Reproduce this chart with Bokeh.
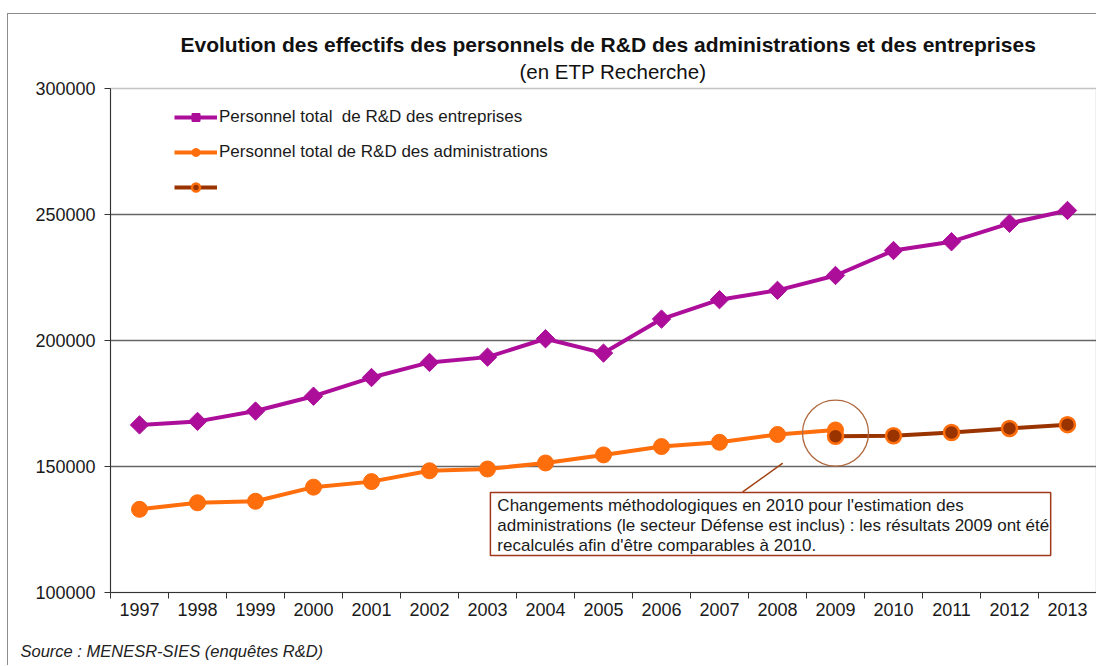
from bokeh.plotting import figure
from bokeh.models import (FixedTicker, Label, BoxAnnotation, Legend, LegendItem,
                          BasicTickFormatter, Range1d, Title)
from bokeh.embed import file_html
from bokeh.resources import INLINE
import math

# ---------------- data ----------------
years = list(range(1997, 2014))
entreprises = [166500, 167900, 172000, 177900, 185300, 191300, 193400, 200700, 195000,
               208500, 216200, 219900, 225800, 235700, 239200, 246500, 251600]
admin_years = list(range(1997, 2010))
administrations = [133000, 135600, 136200, 141800, 144000, 148300, 149000, 151400,
                   154600, 157900, 159600, 162700, 164500]
recalc_years = [2009, 2010, 2011, 2012, 2013]
recalc = [162000, 162200, 163500, 165100, 166600]
y_ticks = [100000, 150000, 200000, 250000, 300000]

title = "Evolution des effectifs des personnels de R&D des administrations et des entreprises"
subtitle = "(en ETP Recherche)"
label_ent = "Personnel total  de R&D des entreprises"
label_adm = "Personnel total de R&D des administrations"
note_lines = ["Changements  méthodologiques  en 2010 pour l'estimation  des",
              "administrations  (le secteur Défense est inclus)  : les résultats  2009 ont été",
              "recalculés afin d'être comparables à 2010."]
source = "Source : MENESR-SIES (enquêtes R&D)"

MAGENTA = "#AC0E9A"
ORANGE = "#FF6E0C"
BROWN = "#993300"
FONT = "Liberation Sans"
TXT = "#1a1a1a"

p = figure(width=1089, height=652, output_backend="svg", toolbar_location=None, title=None,
           x_range=Range1d(years[0] - 0.5, years[-1] + 0.5),
           y_range=Range1d(y_ticks[0], y_ticks[-1]),
           min_border_left=102, min_border_right=1, min_border_top=74, min_border_bottom=20,
           styles={"border-left": "1px solid #8c8c8c", "border-top": "1px solid #8c8c8c",
                   "margin-left": "7px", "margin-top": "13px"})
p.background_fill_color = "white"
p.border_fill_color = "white"
p.outline_line_color = "#C4C4C4"
p.outline_line_width = 1.5

# axes
p.xaxis.ticker = FixedTicker(ticks=years, minor_ticks=[y - 0.5 for y in years] + [years[-1] + 0.5])
p.xaxis.major_tick_out = 0
p.xaxis.major_tick_in = 0
p.xaxis.minor_tick_out = 6
p.xaxis.minor_tick_in = 0
p.xaxis.minor_tick_line_color = "#333333"
p.xaxis.major_label_standoff = 4
p.yaxis.ticker = FixedTicker(ticks=y_ticks)
p.yaxis.formatter = BasicTickFormatter(use_scientific=False)
p.yaxis.major_tick_out = 6
p.yaxis.major_tick_in = 0
p.yaxis.minor_tick_line_color = None
p.yaxis.major_label_standoff = 9
for ax in (p.xaxis[0], p.yaxis[0]):
    ax.axis_line_color = "#333333"
    ax.major_tick_line_color = "#333333"
    ax.major_label_text_font = FONT
    ax.major_label_text_font_size = "18px"
    ax.major_label_text_color = TXT

p.xgrid.visible = False
p.ygrid.ticker = FixedTicker(ticks=y_ticks[1:-1])
p.ygrid.grid_line_color = "#666666"
p.ygrid.grid_line_width = 1.5

# series
r1l = p.line(years, entreprises, line_color=MAGENTA, line_width=4)
r1m = p.scatter(years, entreprises, marker="square", angle=math.pi / 4, size=13,
                fill_color=MAGENTA, line_color=MAGENTA)
r2l = p.line(admin_years, administrations, line_color=ORANGE, line_width=4)
r2m = p.scatter(admin_years, administrations, marker="circle", size=16,
                fill_color=ORANGE, line_color=ORANGE)
r3l = p.line(recalc_years, recalc, line_color=BROWN, line_width=4)
r3m = p.scatter(recalc_years, recalc, marker="circle", size=15,
                fill_color=BROWN, line_color=ORANGE, line_width=2.5)

# highlight circle around 2009
cy = (administrations[-1] + recalc[0]) / 2
p.scatter([recalc_years[0]], [cy], marker="circle", size=66, fill_color=None,
          line_color="#B0683E", line_width=1.3)
p.segment(x0=[2008.09], y0=[151300], x1=[2007.40], y1=[139900],
          line_color="#A0400F", line_width=1.5)

# annotation box
p.add_layout(BoxAnnotation(left=2003.05, right=2012.71, bottom=114700, top=139700,
                           fill_color="white", fill_alpha=1, line_color="#A0381A",
                           line_width=1.5, line_alpha=1))
for ln, yy in zip(note_lines, [134500, 126600, 118700]):
    p.add_layout(Label(x=2003.17, y=yy, text=ln, text_font=FONT, text_font_size="17px",
                       text_baseline="middle", text_align="left", text_color=TXT))

# legend
legend = Legend(items=[LegendItem(label=label_ent, renderers=[r1l, r1m]),
                       LegendItem(label=label_adm, renderers=[r2l, r2m]),
                       LegendItem(label=" ", renderers=[r3l, r3m])],
                location=(64, 395), orientation="vertical",
                glyph_width=43, glyph_height=20, label_height=20, spacing=15,
                label_standoff=2, padding=0, margin=0,
                border_line_color=None, background_fill_alpha=0,
                label_text_font=FONT, label_text_font_size="17px", label_text_color=TXT)
p.add_layout(legend)

# titles and source
p.add_layout(Title(text=subtitle, align="left", offset=409, text_font=FONT,
                   text_font_size="20.5px", text_font_style="normal", text_color="#111111",
                   standoff=11), "above")
p.add_layout(Title(text=title, align="left", offset=70, text_font=FONT,
                   text_font_size="21px", text_font_style="bold", text_color="#111111",
                   standoff=-7), "above")
# thin spacer between the x axis and the source note
p.add_layout(Title(text=" ", align="left", text_font=FONT, text_font_size="4px",
                   text_color="white", standoff=7), "below")
p.add_layout(Title(text=source, align="left", offset=-90, text_font=FONT,
                   text_font_size="16.5px", text_font_style="italic", text_color="#222222",
                   standoff=14), "below")

open("out.html", "w").write(file_html(p, INLINE))
